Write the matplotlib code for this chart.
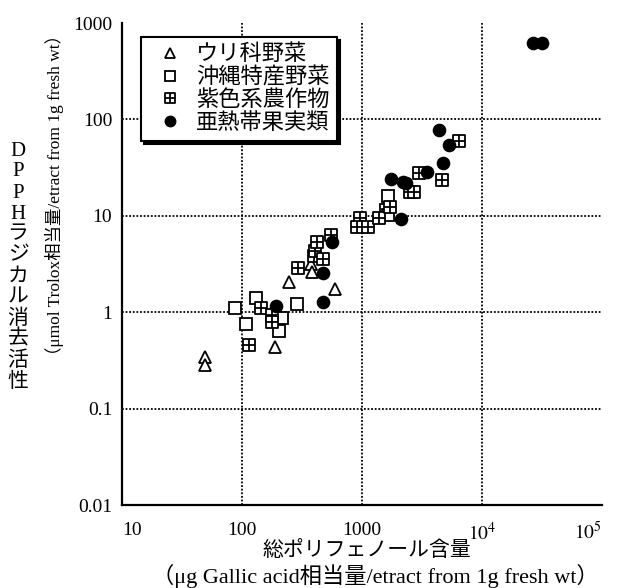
#!/usr/bin/env python3
"""
DPPH radical scavenging activity vs total polyphenol content (log-log scatter).
"""

import matplotlib
matplotlib.use('Agg')
import matplotlib.pyplot as plt
from matplotlib.path import Path

# ---- data ----
labels = ['ウリ科野菜', '沖縄特産野菜', '紫色系農作物', '亜熱帯果実類']

# ウリ科野菜 (open triangles)
uri_x = [49, 49, 190, 248, 376, 385, 600]
uri_y = [0.34, 0.28, 0.44, 2.07, 3.16, 2.6, 1.74]

# 沖縄特産野菜 (open squares)
okinawa_x = [88, 107, 132, 286, 214, 203, 1640, 1590, 1660]
okinawa_y = [1.11, 0.76, 1.40, 1.22, 0.865, 0.643, 16.1, 11.5, 10.3]

# 紫色系農作物 (squares with a cross)
purple_x = [114, 144, 177, 177, 291, 401, 405, 419, 476, 549,
            960, 900, 1130, 1390, 1710, 2500, 2700, 3000, 4610, 6430]
purple_y = [0.457, 1.11, 0.935, 0.80, 2.85, 3.86, 4.3, 5.35, 3.54, 6.3,
            9.6, 7.7, 7.7, 9.4, 12.4, 17.5, 17.5, 27.8, 23.5, 59.3]

# 亜熱帯果実類 (filled circles)
fruit_x = [192, 476, 476, 560, 1730, 2180, 2330, 2130, 3500,
           4400, 4700, 5270, 26600, 31600]
fruit_y = [1.16, 2.57, 1.28, 5.4, 24.1, 22.6, 21.7, 9.2, 28.7,
           77.6, 35.5, 54, 620, 620]

x_ticks = [10, 100, 1000, 1e4, 1e5]
x_tick_labels = ['10', '100', '1000', r'$10^4$', r'$10^5$']
y_ticks = [0.01, 0.1, 1, 10, 100, 1000]
y_tick_labels = ['0.01', '0.1', '1', '10', '100', '1000']
x_grid = [100, 1000, 1e4]
y_grid = [0.1, 1, 10, 100]

y_label_1 = 'DPPHラジカル消去活性'
y_label_2 = '（μmol Trolox相当量/etract from 1g fresh wt）'
x_label_1 = '総ポリフェノール含量'
x_label_2 = '（μg Gallic acid相当量/etract from 1g fresh wt）'


def plus_square_marker():
    """Square outline with a cross inside."""
    verts = [(-1, -1), (1, -1), (1, 1), (-1, 1), (-1, -1),
             (0, -1), (0, 1), (-1, 0), (1, 0)]
    codes = [Path.MOVETO, Path.LINETO, Path.LINETO, Path.LINETO, Path.CLOSEPOLY,
             Path.MOVETO, Path.LINETO, Path.MOVETO, Path.LINETO]
    return Path(verts, codes)


def main():
    plt.rcParams['font.family'] = ['Liberation Serif', 'Noto Sans CJK JP']
    plt.rcParams['mathtext.fontset'] = 'stix'

    W, H = 633, 588
    fig = plt.figure(figsize=(W / 100, H / 100), dpi=100)
    ax = fig.add_axes([122 / W, 1 - 505 / H, 480 / W, 482 / H])
    ax.set_xscale('log')
    ax.set_yscale('log')
    ax.set_xlim(10, 1e5)
    ax.set_ylim(0.01, 1000)

    # dotted grid only on interior decades
    for gx in x_grid:
        ax.axvline(gx, color='black', lw=1.3, ls=(0, (1, 1)), zorder=1)
    for gy in y_grid:
        ax.axhline(gy, color='black', lw=1.3, ls=(0, (1, 1)), zorder=1)

    common = dict(linestyle='none', markeredgecolor='black', markeredgewidth=1.3, zorder=3)
    ax.plot(uri_x, uri_y, marker='^', markersize=8, markerfacecolor='white',
            label=labels[0], **common)
    ax.plot(okinawa_x, okinawa_y, marker='s', markersize=8, markerfacecolor='white',
            label=labels[1], **common)
    ax.plot(purple_x, purple_y, marker=plus_square_marker(), markersize=8,
            markerfacecolor='white', label=labels[2], **common)
    ax.plot(fruit_x, fruit_y, marker='o', markersize=8.5, markerfacecolor='black',
            label=labels[3], **common)

    # only left/bottom spines, no tick marks
    for side in ['top', 'right']:
        ax.spines[side].set_visible(False)
    for side in ['left', 'bottom']:
        ax.spines[side].set_linewidth(1.6)
    ax.set_xticks(x_ticks)
    ax.set_xticklabels(x_tick_labels)
    ax.set_yticks(y_ticks)
    ax.set_yticklabels(y_tick_labels)
    ax.minorticks_off()
    ax.tick_params(length=0, labelsize=14)
    ax.tick_params(axis='x', pad=12)
    ax.tick_params(axis='y', pad=7)
    xt = ax.get_xticklabels()
    xt[0].set_ha('left')
    xt[-1].set_ha('right')

    leg = ax.legend(loc='upper left', bbox_to_anchor=(0.04, 0.971), fontsize=16,
                    frameon=True, fancybox=False, edgecolor='black',
                    shadow={'color': 'black', 'alpha': 1},
                    handlelength=1.9, handletextpad=0.2, labelspacing=0.08,
                    borderpad=0.35, borderaxespad=0, markerscale=0.85)
    leg.get_frame().set_linewidth(1.5)
    leg.set_zorder(5)

    # y label: stacked upright characters + rotated unit line
    y0, pitch = 151, 21
    for i, ch in enumerate(y_label_1):
        fig.text(18 / W, 1 - (y0 + i * pitch) / H, ch, fontsize=15,
                 ha='center', va='center')
    fig.text(55 / W, 1 - 195 / H, y_label_2, fontsize=12.5, rotation=90,
             ha='center', va='center')

    # x label (two lines)
    fig.text(367 / W, 1 - 551 / H, x_label_1, fontsize=15, ha='center', va='center')
    fig.text(375 / W, 1 - 576 / H, x_label_2, fontsize=16, ha='center', va='center')

    fig.savefig('out.png', dpi=100)


if __name__ == '__main__':
    main()
